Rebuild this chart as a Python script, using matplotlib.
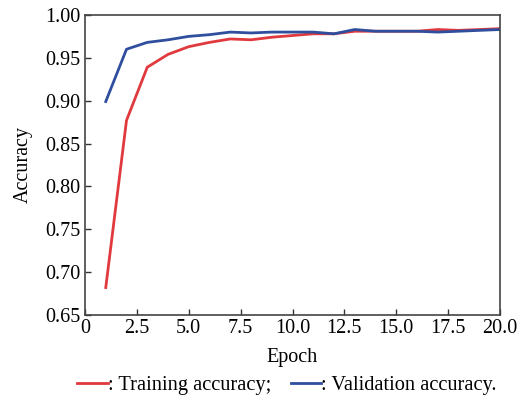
import matplotlib
matplotlib.use("Agg")
import matplotlib.pyplot as plt
from matplotlib.lines import Line2D

plt.rcParams['font.family'] = ['Liberation Serif', 'DejaVu Serif']

epochs = list(range(1, 21))
train_acc = [0.682, 0.877, 0.939, 0.954, 0.963, 0.968, 0.972, 0.971, 0.974, 0.976,
             0.978, 0.978, 0.981, 0.981, 0.981, 0.981, 0.983, 0.982, 0.983, 0.984]
val_acc = [0.899, 0.960, 0.968, 0.971, 0.975, 0.977, 0.980, 0.979, 0.980, 0.980,
           0.980, 0.978, 0.983, 0.981, 0.981, 0.981, 0.980, 0.981, 0.982, 0.983]
xticks = [0, 2.5, 5.0, 7.5, 10.0, 12.5, 15.0, 17.5, 20.0]
xticklabels = ["0", "2.5", "5.0", "7.5", "10.0", "12.5", "15.0", "17.5", "20.0"]
yticks = [0.65, 0.70, 0.75, 0.80, 0.85, 0.90, 0.95, 1.00]

red = "#e0393e"
blue = "#2f4f9e"
fs = 14.5

fig = plt.figure(figsize=(5.26, 4.04), dpi=100)
ax = fig.add_axes([0.1616, 0.2203, 0.789, 0.7427])
ax.plot(epochs, train_acc, color=red, lw=2)
ax.plot(epochs, val_acc, color=blue, lw=2)
ax.set_xlim(0, 20)
ax.set_ylim(0.65, 1.0)
ax.set_xticks(xticks)
ax.set_xticklabels(xticklabels)
ax.set_yticks(yticks)
ax.set_yticklabels([f"{v:.2f}" for v in yticks])
ax.tick_params(direction='in', labelsize=fs, length=4, width=1, colors='#333333',
               labelcolor='black', pad=3)
for s in ax.spines.values():
    s.set_color('#444444')
    s.set_linewidth(1.2)
ax.set_xlabel("Epoch", fontsize=fs, labelpad=7)
ax.set_ylabel("Accuracy", fontsize=fs, labelpad=9)

handles = [Line2D([], [], color=red, lw=2), Line2D([], [], color=blue, lw=2)]
fig.legend(handles, [": Training accuracy;", ": Validation accuracy."],
           loc='center', bbox_to_anchor=(0.546, 0.047), ncol=2, frameon=False,
           fontsize=14.7, handlelength=1.5, handletextpad=0.0, columnspacing=0.95)
fig.savefig("out.png", dpi=100)
